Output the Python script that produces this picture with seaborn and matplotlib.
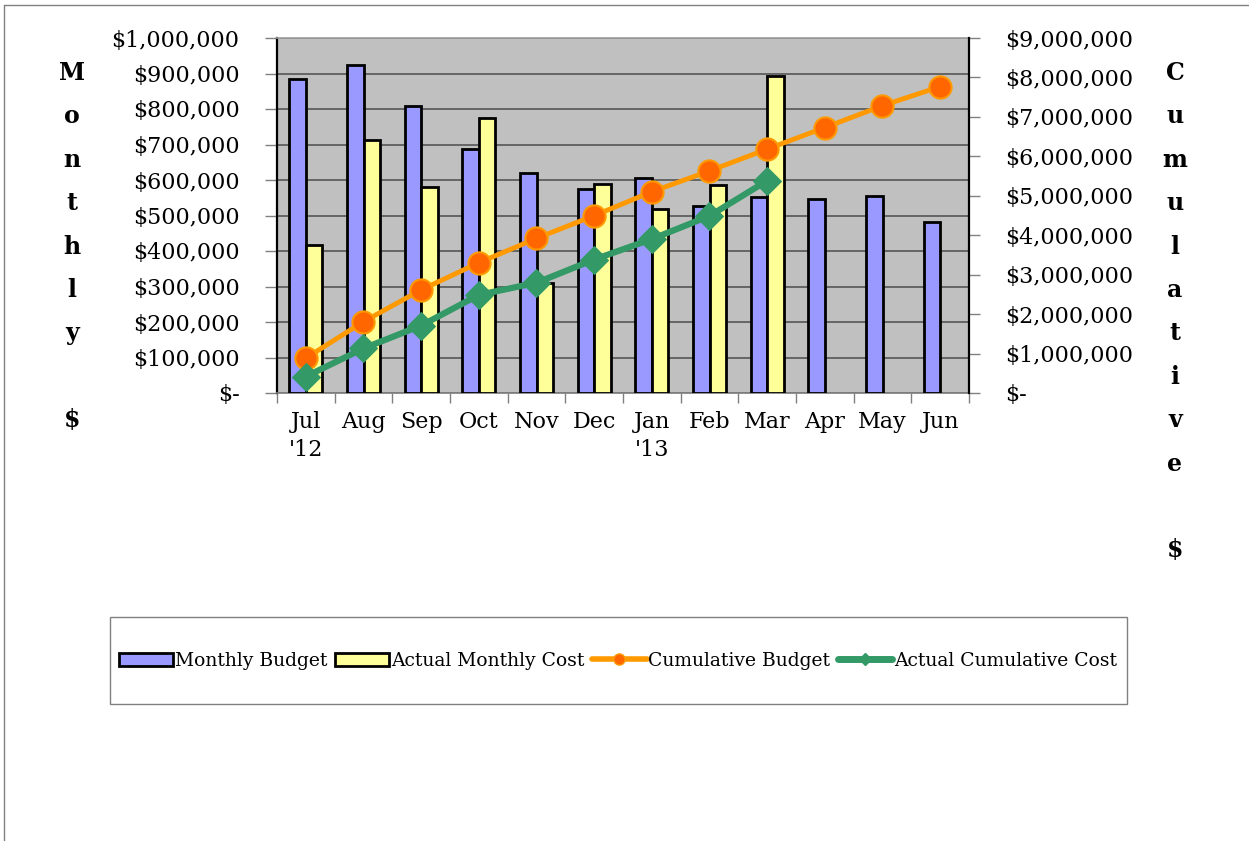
import matplotlib
matplotlib.use("Agg")
import matplotlib.pyplot as plt
from matplotlib.lines import Line2D
from matplotlib.patches import Patch, Rectangle
import numpy as np
import pandas as pd
import seaborn as sns

# values
months = ["Jul\n'12", "Aug", "Sep", "Oct", "Nov", "Dec", "Jan\n'13", "Feb", "Mar", "Apr", "May", "Jun"]
monthly_budget = [884000, 924000, 808000, 686000, 619000, 576000, 606000, 527000, 553000, 546000, 556000, 483000]
actual_monthly = [417000, 713000, 580000, 776000, 309000, 589000, 518000, 587000, 894000, None, None, None]
cumulative_budget = [884000, 1808000, 2616000, 3302000, 3921000, 4497000, 5103000, 5630000, 6183000, 6729000, 7285000, 7768000]
actual_cumulative = [417000, 1130000, 1710000, 2486000, 2795000, 3384000, 3902000, 4489000, 5383000]

series_names = ["Monthly Budget", "Actual Monthly Cost", "Cumulative Budget", "Actual Cumulative Cost"]

sns.set_theme(style="white")
plt.rcParams['font.family'] = ['DejaVu Serif']
plt.rcParams['text.color'] = 'black'
plt.rcParams['xtick.labelcolor'] = 'black'
plt.rcParams['ytick.labelcolor'] = 'black'

bars = pd.DataFrame({
    'month': months * 2,
    'serie': [series_names[0]] * 12 + [series_names[1]] * 12,
    'valor': monthly_budget + actual_monthly,
})

fig = plt.figure(figsize=(12.49, 8.41), dpi=100)
ax = fig.add_axes([277/1249, 1 - 393/841, 692/1249, 355/841])
ax.set_facecolor('#C0C0C0')

cores = {series_names[0]: '#9999FF', series_names[1]: '#FFFF99'}
sns.barplot(data=bars, x='month', y='valor', hue='serie', order=months,
            hue_order=series_names[:2], palette=cores, saturation=1,
            width=0.57, edgecolor='black', linewidth=2, legend=False, ax=ax, zorder=3)

ax.set_xlim(-0.5, 11.5)
ax.set_ylim(0, 1000000)
ax.set_yticks(np.arange(0, 1000001, 100000))
ax.yaxis.set_major_formatter(lambda v, p: "$-" if v == 0 else f"${v:,.0f}")
ax.grid(axis='y', color='#4d4d4d', linewidth=1.1, zorder=1)
ax.set_axisbelow(True)
ax.set_xlabel('')
ax.set_ylabel('')

# ticks on category boundaries, labels in the middle
ax.set_xticks(np.arange(-0.5, 12, 1))
ax.set_xticklabels([])
ax.set_xticks(np.arange(12), minor=True)
ax.set_xticklabels(months, minor=True, fontsize=16, linespacing=1.35)
ax.tick_params(axis='x', which='minor', length=0, pad=13, labelcolor='black')
ax.tick_params(axis='x', which='major', length=7, color='#808080', width=1, direction='out', bottom=True)
ax.tick_params(axis='y', length=9, color='#808080', width=1, direction='out', pad=18, labelsize=16,
               left=True, labelcolor='black')

ax.spines['top'].set_color('#a0a0a0')
ax.spines['bottom'].set_color('#808080')
ax.spines['left'].set_color('black')
ax.spines['left'].set_linewidth(1.6)

# cumulative lines on the right axis
ax2 = ax.twinx()
idx = np.arange(len(months))
sns.lineplot(x=idx, y=cumulative_budget, color='#FF9900', linewidth=3.5, marker='o',
             markersize=16, markerfacecolor='#FF6600', markeredgecolor='#FF9900',
             markeredgewidth=1.5, ax=ax2, zorder=5)
sns.lineplot(x=idx[:len(actual_cumulative)], y=actual_cumulative, color='#339966', linewidth=4.5,
             marker='D', markersize=14, markerfacecolor='#339966', markeredgecolor='#339966',
             ax=ax2, zorder=6)
ax2.set_ylim(0, 9000000)
ax2.set_xlim(-0.5, 11.5)
ax2.set_yticks(np.arange(0, 9000001, 1000000))
ax2.yaxis.set_major_formatter(lambda v, p: "$-" if v == 0 else f"${v:,.0f}")
ax2.tick_params(axis='y', length=8, color='#808080', width=1, direction='out', pad=18, labelsize=16,
                right=True, labelcolor='black')
ax2.grid(False)
ax2.spines['right'].set_color('black')
ax2.spines['right'].set_linewidth(1.6)
for s in ['top', 'left', 'bottom']:
    ax2.spines[s].set_visible(False)

# vertical stacked axis titles
for i, ch in enumerate("Monthly $"):
    fig.text(72/1249, 1 - (73 + i*43.4)/841, ch, ha='center', va='center',
             fontsize=17, fontweight='bold', color='black')
for i, ch in enumerate("Cumulative $"):
    fig.text(1175/1249, 1 - (73 + i*43.4)/841, ch, ha='center', va='center',
             fontsize=17, fontweight='bold', color='black')

# legend box
fig.add_artist(Rectangle((110/1249, 1 - 704/841), 1017/1249, 87/841, transform=fig.transFigure,
                         facecolor='white', edgecolor='#808080', linewidth=1))
handles = [
    Patch(facecolor='#9999FF', edgecolor='black', linewidth=2),
    Patch(facecolor='#FFFF99', edgecolor='black', linewidth=2),
    Line2D([], [], color='#FF9900', linewidth=4, marker='o', markersize=8,
           markerfacecolor='#FF6600', markeredgecolor='#FF9900'),
    Line2D([], [], color='#339966', linewidth=5, marker='D', markersize=6,
           markerfacecolor='#339966', markeredgecolor='#339966'),
]
fig.legend(handles, series_names, loc='center', bbox_to_anchor=(618/1249, 1 - 661/841),
           ncol=4, frameon=False, fontsize=13.5, handlelength=2.9, handleheight=0.7,
           handletextpad=0.1, columnspacing=0.4, labelcolor='black')

# outer frame of the original picture
fig.add_artist(Line2D([4/1249, 4/1249], [0, 1 - 5/841], transform=fig.transFigure, color='#808080', linewidth=1))
fig.add_artist(Line2D([4/1249, 1], [1 - 5/841, 1 - 5/841], transform=fig.transFigure, color='#808080', linewidth=1))

fig.savefig('out.png', dpi=100)
